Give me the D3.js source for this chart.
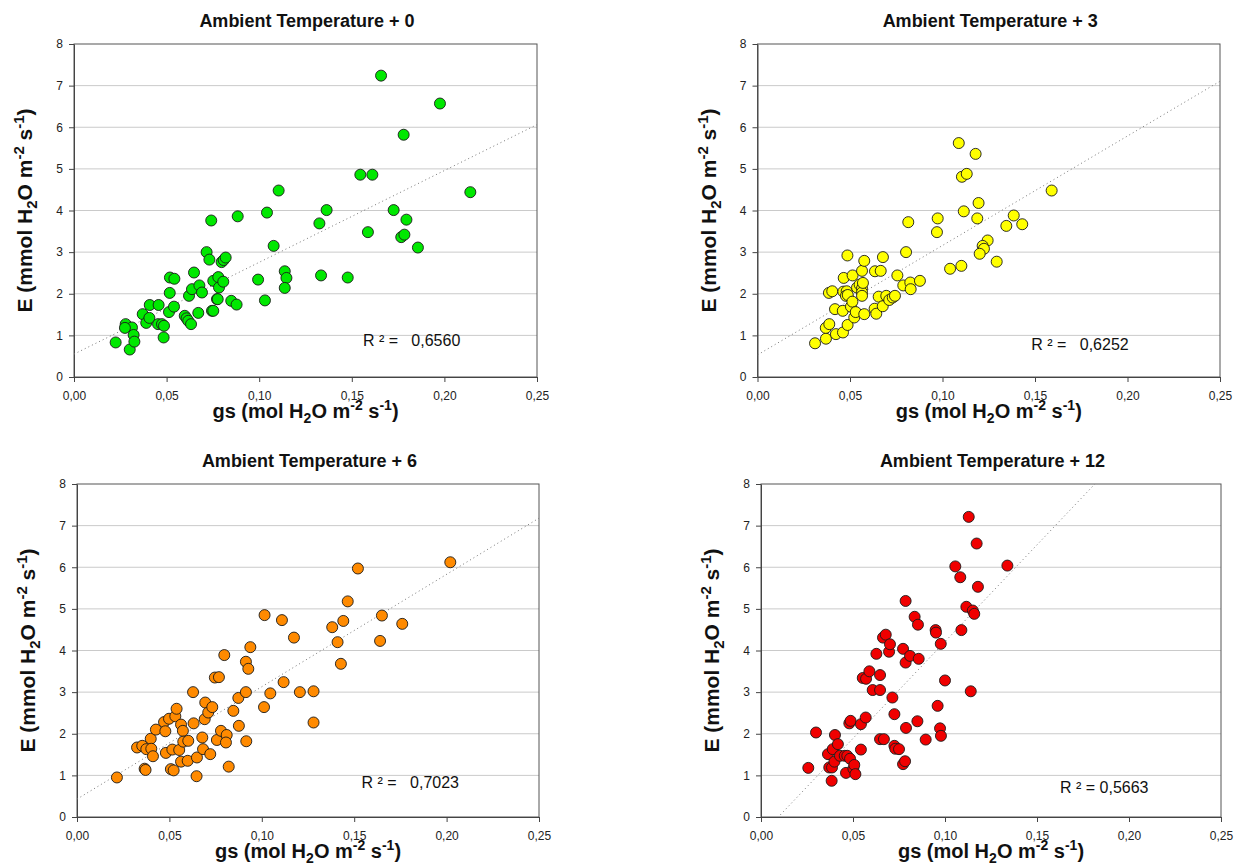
<!DOCTYPE html>
<html>
<head>
<meta charset="utf-8">
<script src="https://cdn.jsdelivr.net/npm/d3@7"></script>
<style>
body { margin: 0; background: #fff; }
text { font-family: Arial, "Liberation Sans", sans-serif; }
</style>
</head>
<body>
<script>
var w = 1244,
    h = 867;

// ---- data ----
var titles = ["Ambient Temperature + 0", "Ambient Temperature + 3",
              "Ambient Temperature + 6", "Ambient Temperature + 12"];
var r2Labels = ["R \u00b2 =   0,6560", "R \u00b2 =   0,6252", "R \u00b2 =   0,7023", "R \u00b2 = 0,5663"];
var fitIntercept = [0.55, 0.53, 0.43, -0.437];
var fitSlope = [22.05, 26.3, 27.0, 46.5];
var xTicks = [0, 0.05, 0.10, 0.15, 0.20, 0.25];
var yTicks = [0, 1, 2, 3, 4, 5, 6, 7, 8];

// + 0
var gs0 = [.0225, .0301, .0279, .0313, .0275, .0322, .0326, .0371, .0390, .0407, .0409, .0457, .0454, .0475,
  .0486, .0484, .0517, .0518, .0542, .0513, .0540, .0598, .0608, .0617, .0632, .0621, .0637, .0648, .0671,
  .0677, .0691, .0716, .0731, .0741, .0745, .0752, .0752, .0772, .0776, .0779, .0783, .0797, .0808, .0819,
  .0806, .0849, .0878, .0884, .0994, .1031, .1042, .1078, .1105, .1138, .1147, .1138, .1658, .1976, .1780,
  .1546, .1611, .2140, .1364, .1726, .1325, .1795, .1587, .1767, .1784, .1857, .1334, .1478];
var e0 = [0.83, 0.66, 1.27, 1.19, 1.18, 1.01, 0.85, 1.51, 1.30, 1.42, 1.73, 1.73, 1.27, 1.27,
  1.23, 0.95, 2.02, 2.39, 2.36, 1.56, 1.69, 1.47, 1.41, 1.35, 1.27, 1.95, 2.11, 2.51, 1.54,
  2.20, 2.03, 3.00, 2.82, 3.76, 1.59, 1.59, 2.31, 1.87, 1.87, 2.40, 2.15, 2.76, 2.81, 2.87,
  2.29, 1.83, 1.74, 3.86, 2.34, 1.84, 3.95, 3.15, 4.48, 2.54, 2.38, 2.14, 7.24, 6.57, 5.82,
  4.86, 4.86, 4.44, 4.01, 4.01, 3.69, 3.78, 3.48, 3.36, 3.42, 3.11, 2.44, 2.39];

// + 3
var gs3 = [.0311, .0370, .0369, .0388, .0424, .0462, .0487, .0386, .0404, .0419, .0461, .0466, .0464, .0482,
  .0478, .0488, .0486, .0505, .0513, .0514, .0523, .0531, .0538, .0552, .0565, .0565, .0565, .0565, .0570,
  .0577, .0577, .0633, .0635, .0642, .0655, .0666, .0677, .0678, .0696, .0712, .0731, .0743, .0756, .0788,
  .0803, .0815, .0826, .0828, .0878, .0970, .0974, .1041, .1088, .1102, .1105, .1131, .1115, .1179, .1195,
  .1188, .1385, .1345, .1431, .1244, .1217, .1224, .1201, .1293, .1590];
var e3 = [0.81, 0.92, 1.18, 1.27, 1.03, 1.07, 1.25, 2.02, 2.06, 1.63, 1.59, 2.38, 2.05, 2.06,
  1.95, 1.97, 2.92, 1.69, 1.81, 2.44, 1.43, 1.56, 2.15, 2.22, 2.55, 2.13, 2.03, 1.95, 2.26,
  2.79, 1.51, 1.64, 2.54, 1.52, 1.93, 2.55, 1.70, 2.88, 1.95, 1.85, 1.91, 1.95, 2.44, 2.20,
  3.00, 3.72, 2.27, 2.11, 2.31, 3.48, 3.81, 2.60, 5.62, 2.67, 4.81, 4.88, 3.98, 5.36, 4.18,
  3.81, 3.88, 3.63, 3.67, 3.28, 3.15, 3.08, 2.96, 2.77, 4.48];

// + 6
var gs6 = [.0216, .0325, .0353, .0366, .0371, .0375, .0399, .0402, .0411, .0427, .0471, .0478, .0481, .0498,
  .0508, .0523, .0516, .0532, .0539, .0553, .0563, .0563, .0573, .0575, .0599, .0602, .0628, .0631, .0647,
  .0649, .0678, .0682, .0691, .0694, .0710, .0721, .0732, .0746, .0768, .0757, .0779, .0797, .0810, .0806,
  .0821, .0846, .0873, .0876, .0914, .0927, .0914, .0916, .0938, .1012, .1015, .1046, .1109, .1118, .1174,
  .1206, .1280, .1280, .1381, .1410, .1428, .1441, .1465, .1520, .1650, .1640, .1760, .2020];
var e6 = [0.95, 1.67, 1.71, 1.16, 1.13, 1.63, 1.88, 1.64, 1.46, 2.10, 2.28, 2.06, 1.54, 2.36,
  1.15, 1.12, 1.62, 2.42, 2.60, 1.61, 2.22, 1.33, 2.07, 1.81, 1.35, 1.83, 3.00, 2.25, 0.98,
  1.43, 1.91, 1.63, 2.35, 2.75, 2.51, 1.51, 2.64, 3.35, 3.36, 1.85, 2.07, 3.89, 1.97, 1.79,
  1.21, 2.55, 2.86, 2.19, 3.73, 3.56, 3.00, 1.82, 4.08, 2.64, 4.85, 2.97, 4.73, 3.24, 4.31,
  3.00, 3.02, 2.27, 4.56, 4.20, 3.68, 4.71, 5.18, 5.97, 4.84, 4.23, 4.64, 6.12];

// + 12
var gs12 = [.0257, .0299, .0364, .0371, .0386, .0384, .0390, .0399, .0402, .0418, .0429, .0455, .0469, .0484,
  .0462, .0480, .0487, .0502, .0507, .0513, .0543, .0543, .0553, .0571, .0569, .0589, .0607, .0627, .0647,
  .0647, .0647, .0668, .0663, .0678, .0696, .0701, .0714, .0725, .0725, .0730, .0750, .0772, .0786, .0786,
  .0788, .0772, .0783, .0810, .0835, .0853, .0850, .0857, .0895, .0949, .0951, .0960, .0973, .0977, .0978,
  .1000, .1056, .1083, .1089, .1116, .1129, .1140, .1151, .1159, .1172, .1179, .1339];
var e12 = [1.18, 2.03, 1.51, 1.19, 1.19, 0.87, 1.63, 1.33, 1.97, 1.75, 1.47, 1.47, 1.47, 1.40,
  1.06, 2.25, 2.31, 1.16, 1.25, 1.03, 1.62, 2.23, 3.34, 3.32, 2.39, 3.50, 3.05, 3.92, 3.41,
  3.05, 1.87, 1.87, 4.31, 4.38, 3.97, 4.15, 2.87, 2.47, 1.71, 1.64, 1.63, 4.04, 5.19, 3.71,
  2.14, 1.27, 1.34, 3.87, 4.81, 4.62, 2.30, 3.80, 1.86, 4.49, 4.43, 2.67, 2.13, 4.16, 1.95,
  3.28, 6.02, 5.76, 4.49, 5.05, 7.21, 3.02, 4.96, 4.88, 6.57, 5.53, 6.04];

var gsSeries = [gs0, gs3, gs6, gs12];
var eSeries = [e0, e3, e6, e12];

// ---- layout ----
var panels = [
    {x0: 74, x1: 537, y0: 44, y1: 377, color: "#00e800", r2x: 0.156, r2y: 0.745},
    {x0: 757.5, x1: 1220, y0: 44, y1: 377, color: "#ffff00", r2x: 0.148, r2y: 0.65},
    {x0: 77, x1: 539, y0: 484, y1: 817, color: "#ff8a00", r2x: 0.154, r2y: 0.69},
    {x0: 761, x1: 1221, y0: 484, y1: 817, color: "#f00000", r2x: 0.1625, r2y: 0.58}
];

var comma = d3.formatLocale({decimal: ",", thousands: ".", grouping: [3], currency: ["", ""]});
var fmtX = comma.format(".2f");

var svg = d3.select("body")
    .append("svg")
    .attr("width", w)
    .attr("height", h);

// label with sub/superscripts: ... H2O m-2 s-1)
function unitLabel(t, lead, small) {
    t.append("tspan").text(lead + " H");
    t.append("tspan").attr("font-size", small).attr("dy", 5).text("2");
    t.append("tspan").attr("dy", -5).text("O m");
    t.append("tspan").attr("font-size", small).attr("dy", -8).text("-2");
    t.append("tspan").attr("dy", 8).text(" s");
    t.append("tspan").attr("font-size", small).attr("dy", -8).text("-1");
    t.append("tspan").attr("dy", 8).text(")");
}

panels.forEach(function (p, i) {
    var x = d3.scaleLinear().domain([0, 0.25]).range([p.x0, p.x1]);
    var y = d3.scaleLinear().domain([0, 8]).range([p.y1, p.y0]);
    var g = svg.append("g");

    // grid lines
    g.selectAll("line.grid")
        .data(yTicks.slice(1, -1))
        .enter()
        .append("line")
        .attr("class", "grid")
        .attr("x1", p.x0)
        .attr("x2", p.x1)
        .attr("y1", function (d) { return y(d); })
        .attr("y2", function (d) { return y(d); })
        .attr("stroke", "#cacaca")
        .attr("stroke-width", 1);

    // frame
    g.append("rect")
        .attr("x", p.x0)
        .attr("y", p.y0)
        .attr("width", p.x1 - p.x0)
        .attr("height", p.y1 - p.y0)
        .attr("fill", "none")
        .attr("stroke", "#555")
        .attr("stroke-width", 1);

    // axes
    var xa = g.append("g")
        .attr("transform", "translate(0," + p.y1 + ")")
        .call(d3.axisBottom(x).tickValues(xTicks).tickFormat(fmtX).tickSize(5).tickSizeOuter(0).tickPadding(9));
    var ya = g.append("g")
        .attr("transform", "translate(" + p.x0 + ",0)")
        .call(d3.axisLeft(y).tickValues(yTicks).tickFormat(d3.format("d")).tickSize(5).tickSizeOuter(0).tickPadding(6));
    [xa, ya].forEach(function (a) {
        a.select(".domain").attr("stroke", "#444");
        a.selectAll(".tick line").attr("stroke", "#444");
        a.selectAll("text")
            .attr("font-family", "Arial, 'Liberation Sans', sans-serif")
            .attr("font-size", 12)
            .attr("fill", "#222");
    });

    // regression line (clipped to plot)
    var clipId = "clip" + i;
    g.append("clipPath").attr("id", clipId)
        .append("rect")
        .attr("x", p.x0).attr("y", p.y0)
        .attr("width", p.x1 - p.x0).attr("height", p.y1 - p.y0);
    g.append("line")
        .attr("clip-path", "url(#" + clipId + ")")
        .attr("x1", x(0))
        .attr("y1", y(fitIntercept[i]))
        .attr("x2", x(0.25))
        .attr("y2", y(fitIntercept[i] + fitSlope[i] * 0.25))
        .attr("stroke", "#777")
        .attr("stroke-width", 1)
        .attr("stroke-dasharray", "1,3");

    // points
    var pts = gsSeries[i].map(function (v, k) { return [v, eSeries[i][k]]; });
    g.selectAll("circle")
        .data(pts)
        .enter()
        .append("circle")
        .attr("cx", function (d) { return x(d[0]); })
        .attr("cy", function (d) { return y(d[1]); })
        .attr("r", 5.5)
        .attr("fill", p.color)
        .attr("stroke", "#1a1a1a")
        .attr("stroke-width", 0.9);

    // R² text
    g.append("text")
        .attr("x", x(p.r2x))
        .attr("y", y(p.r2y))
        .attr("font-size", 16)
        .attr("fill", "#111")
        .style("white-space", "pre")
        .text(r2Labels[i]);

    // title
    g.append("text")
        .attr("x", (p.x0 + p.x1) / 2 + 1.5)
        .attr("y", p.y0 - 17)
        .attr("text-anchor", "middle")
        .attr("font-size", 18)
        .attr("font-weight", "bold")
        .attr("fill", "#111")
        .text(titles[i]);

    // x axis title
    var xt = g.append("text")
        .attr("x", (p.x0 + p.x1) / 2)
        .attr("y", p.y1 + 41)
        .attr("text-anchor", "middle")
        .attr("font-size", 20)
        .attr("font-weight", "bold")
        .attr("fill", "#111");
    unitLabel(xt, "gs (mol", 14);

    // y axis title
    var yt = g.append("text")
        .attr("transform", "translate(" + (p.x0 - 42) + "," + ((p.y0 + p.y1) / 2) + ") rotate(-90)")
        .attr("text-anchor", "middle")
        .attr("font-size", 21)
        .attr("font-weight", "bold")
        .attr("fill", "#111");
    unitLabel(yt, "E (mmol", 15);
});
</script>
</body>
</html>
